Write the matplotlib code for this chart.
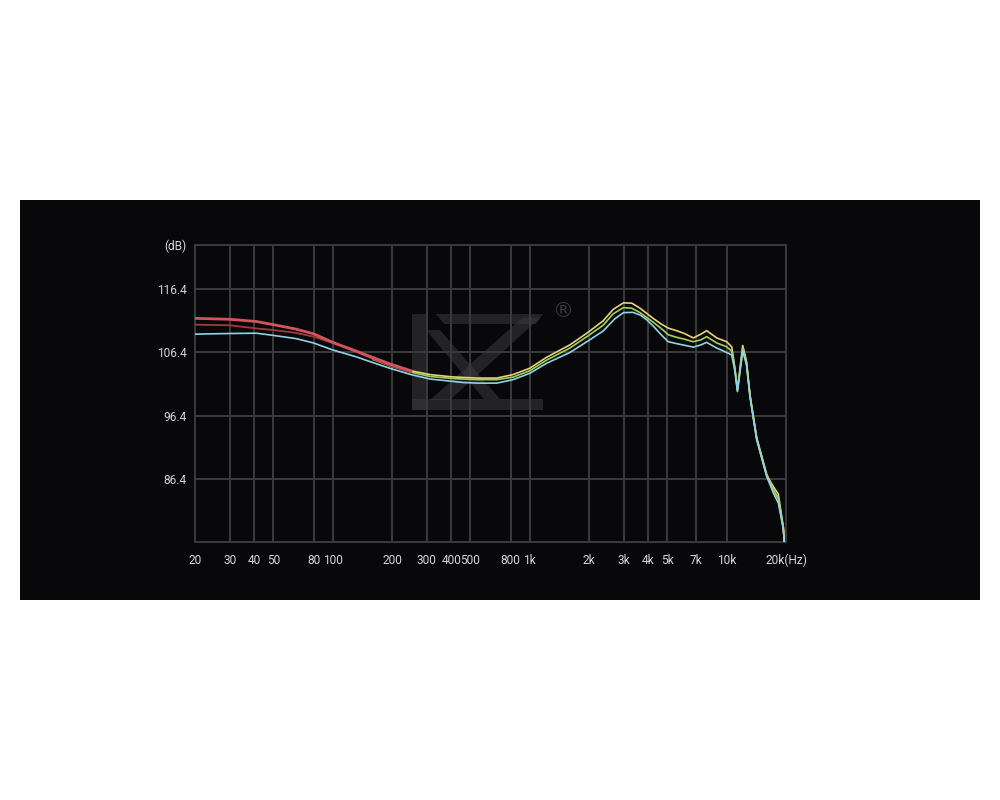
import matplotlib
matplotlib.use("Agg")
import matplotlib.pyplot as plt
from matplotlib.patches import Rectangle, Polygon

# ---------------- data ----------------
x_ticks = [20, 30, 40, 50, 80, 100, 200, 300, 400, 500, 800, 1000,
           2000, 3000, 4000, 5000, 7000, 10000, 20000]
x_labels = ["20", "30", "40", "50", "80", "100", "200", "300", "400", "500",
            "800", "1k", "2k", "3k", "4k", "5k", "7k", "10k", "20k(Hz)"]
y_ticks = [86.4, 96.4, 106.4, 116.4, 123.4]
y_labels = ["86.4", "96.4", "106.4", "116.4", "(dB)"]

cyan_f = [20, 30, 41, 50, 65, 80, 100, 132, 160, 195, 250, 312, 400, 459, 550,
          680, 823, 1000, 1220, 1600, 1950, 2360, 2700, 2990, 3340, 3650, 3930,
          4230, 4650, 5050, 5570, 6770, 7400, 7910, 8900, 10000, 10600, 11000,
          11340, 11700, 12060, 12600, 13130, 14200, 15960, 17240, 18280, 19380,
          19600]
cyan_db = [109.3, 109.4, 109.45, 109.1, 108.6, 107.9, 106.8, 105.7, 104.8, 103.9,
           102.9, 102.2, 101.85, 101.65, 101.55, 101.55, 102.1, 103.1, 104.7, 106.4,
           108.1, 109.8, 111.7, 112.7, 112.75, 112.3, 111.55, 110.6, 109.2, 108.1,
           107.8, 107.25, 107.6, 108.0, 107.1, 106.4, 106.0, 103.5, 100.2, 103.5,
           106.6, 104.5, 99.4, 92.6, 86.8, 84.2, 82.6, 78.5, 76.5]

mid_f = [160, 195, 250, 312, 400, 459, 550, 680, 823, 1000, 1220, 1600, 1950,
         2360, 2650, 2990, 3300, 3630, 4230, 4650, 5050, 5570, 6100, 6770, 7400,
         7910, 8900, 10000, 10600, 11000, 11340, 11700, 12060, 12600, 13130,
         14200, 15960, 17240, 18280, 19380, 19600]
yellow_db = [105.5, 104.5, 103.5, 102.9, 102.55, 102.45, 102.35, 102.35, 102.9,
             103.9, 105.65, 107.6, 109.45, 111.4, 113.2, 114.25, 114.2, 113.4,
             111.8, 110.9, 110.25, 109.85, 109.4, 108.7, 109.3, 109.85, 108.7,
             108.1, 107.3, 104.0, 100.5, 104.0, 107.5, 105.0, 99.6, 92.8, 87.0,
             85.2, 84.0, 78.8, 76.5]
green_db = [105.3, 104.3, 103.3, 102.6, 102.3, 102.2, 102.1, 102.1, 102.5,
            103.5, 105.2, 107.1, 108.9, 110.7, 112.5, 113.5, 113.4, 112.7,
            111.2, 110.2, 109.2, 108.8, 108.5, 108.1, 108.4, 108.9, 107.9,
            107.3, 106.6, 103.8, 100.4, 103.8, 107.1, 104.8, 99.5, 92.7, 86.9,
            84.7, 83.3, 78.6, 76.5]

low_f = [20, 30, 41, 50, 65, 80, 100, 132, 160, 195, 250]
red_db = [111.8, 111.65, 111.3, 110.8, 110.1, 109.35, 108.0, 106.6, 105.6,
          104.6, 103.5]
brown_db = [110.8, 110.7, 110.2, 109.95, 109.5, 108.9, 107.9, 106.5, 105.4,
            104.3, 103.3]

roll_f = [12060, 12600, 13130, 14200, 15960, 17240, 18280, 19380, 19600]
roll_red_db = [107.3, 104.9, 99.7, 93.0, 87.2, 84.7, 83.3, 78.7, 76.5]

# ---------------- figure ----------------
W, H = 1000, 800
fig = plt.figure(figsize=(10, 8), dpi=100, facecolor="white")
bg = "#08080a"
fig.patches.append(Rectangle((20 / W, 1 - 600 / H), 960 / W, 400 / H,
                             transform=fig.transFigure, facecolor=bg,
                             edgecolor="none", zorder=-5))

ax = fig.add_axes([195 / W, 1 - 541.5 / H, 591 / W, (541.5 - 245) / H])
ax.set_zorder(2)
ax.set_facecolor(bg)
ax.set_xscale("log")
ax.set_xlim(20, 20000)
ax.set_ylim(76.5, 123.4)

gcol = "#3b3b3b"
ax.set_xticks(x_ticks)
ax.set_xticklabels(x_labels, family="Roboto")
ax.set_yticks(y_ticks)
ax.set_yticklabels(y_labels, family="Roboto")
ax.minorticks_off()
ax.tick_params(axis="both", length=0, colors="#d6d6d6", labelsize=8.6)
ax.tick_params(axis="x", pad=9)
ax.tick_params(axis="y", pad=6)
ax.grid(True, color=gcol, linewidth=1.4)
for s in ax.spines.values():
    s.set_color(gcol)
    s.set_linewidth(1.4)
ax.set_axisbelow(True)

# watermark logo (rough K/Z shape)
wm = "#3a3a3c"
def fp(pts):
    return [(x / W, 1 - y / H) for x, y in pts]
shapes = [
    [(412, 314), (426, 314), (426, 410), (412, 410)],
    [(436, 314), (543, 314), (536, 324), (444, 324)],
    [(522, 318), (540, 318), (450, 400), (430, 400)],
    [(412, 399), (543, 399), (543, 410), (412, 410)],
    [(426, 330), (440, 330), (500, 399), (484, 399)],
]
for s in shapes:
    p = Polygon(fp(s), closed=True, transform=fig.transFigure,
                facecolor=wm, edgecolor="none", alpha=0.55, zorder=1,
                clip_on=False)
    ax.add_patch(p)
ax.text(563 / W, 1 - 311 / H, "®", color="#3a3a3c", fontsize=15,
        ha="center", va="center", zorder=1, transform=fig.transFigure)

# curves
ax.plot(roll_f, roll_red_db, color="#d66a8a", lw=1.2, zorder=3)
ax.plot(mid_f, yellow_db, color="#e9d27a", lw=1.2, zorder=4)
ax.plot(mid_f, green_db, color="#a4cf52", lw=1.2, zorder=4)
ax.plot(low_f, brown_db, color="#a33a3a", lw=1.3, zorder=5)
ax.plot(low_f, red_db, color="#d05561", lw=2.0, zorder=5)
ax.plot(cyan_f, cyan_db, color="#8fd3e8", lw=1.2, zorder=6)

fig.savefig("out.png", dpi=100, facecolor="white")
